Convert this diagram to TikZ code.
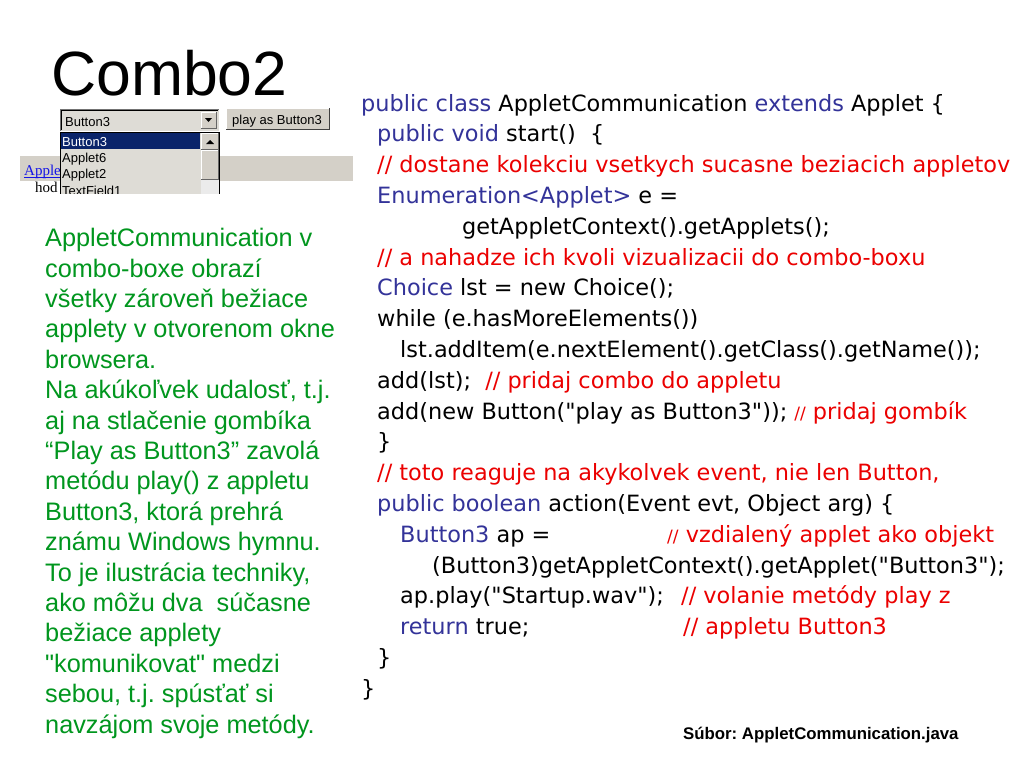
\documentclass[tikz,border=0pt]{standalone}
\usepackage{fontspec}
\setmainfont{Liberation Sans}
\newfontfamily\notefont{Liberation Sans}
\newfontfamily\codefont{DejaVu Sans}
\newfontfamily\webserif{Liberation Serif}
\definecolor{kwc}{RGB}{51,51,153}
\definecolor{cmc}{RGB}{235,0,0}
\definecolor{grc}{RGB}{0,150,30}
\definecolor{wingray}{RGB}{212,208,200}
\definecolor{listbg}{RGB}{222,220,214}
\definecolor{navyc}{RGB}{10,36,106}
\definecolor{linkc}{RGB}{20,20,230}
\newcommand\kwd[1]{\textcolor{kwc}{#1}}
\newcommand\cmt[1]{\textcolor{cmc}{#1}}
\newcommand\smsl{{\fontsize{17}{20}\selectfont//}}
\frenchspacing
\begin{document}
\begin{tikzpicture}[x=1pt,y=-1pt,
  code/.style={anchor=base west,inner sep=0pt,font=\codefont\fontsize{22.4}{26}\selectfont},
  note/.style={anchor=base west,inner sep=0pt,text=grc,font=\notefont\fontsize{25.3}{30}\selectfont},
  ui/.style={anchor=base west,inner sep=0pt,font=\fontsize{13}{15}\selectfont},
  title/.style={anchor=base west,inner sep=0pt,font=\fontsize{62.5}{70}\selectfont}]
\useasboundingbox[fill=white] (0,0) rectangle (1024,768);

% title
\node[title] (title) at (51,95) {Combo2};

% ---------- screenshot of the applet ----------
\begin{scope}
\clip (20,104) rectangle (354,193);
\fill[wingray] (20,156) rectangle (353,181);
\node[anchor=base west,inner sep=0pt,text=linkc,font=\webserif\fontsize{15}{17}\selectfont] (link) at (24,175) {Apple};
\draw[linkc] (24,177) -- (60,177);
\node[anchor=base west,inner sep=0pt,font=\webserif\fontsize{15}{17}\selectfont] (hod) at (35,192) {hod};
% combo box
\fill[listbg] (60,109) rectangle (219,131);
\draw[black!55] (60,131) -- (60,109) -- (219,109);
\draw[white] (60.5,131) -- (219,131) -- (219,109.5);
\draw[black] (61.5,130) -- (61.5,110.5) -- (218,110.5);
\node[ui] (csel) at (65,126) {Button3};
\fill[wingray] (201,112) rectangle (216,128);
\draw[black!60] (201,128) -- (216,128) -- (216,112);
\draw[white] (201,128) -- (201,112) -- (216,112);
\fill[black] (205,118) -- (212,118) -- (208.5,122) -- cycle;
% play button
\fill[wingray] (226,108) rectangle (330,130);
\draw[white] (226.5,130) -- (226.5,108.5) -- (330,108.5);
\draw[black!75] (226,129.5) -- (329.5,129.5) -- (329.5,108);
\node[ui] (playbtn) at (232,124) {play as Button3};
% dropdown list
\fill[listbg] (60,131.5) rectangle (220,200);
\draw[black] (60.5,200) -- (60.5,131.8) -- (219.5,131.8) -- (219.5,200);
\fill[navyc] (61,133) rectangle (200,149);
\node[ui,text=white] (i1) at (62,146) {Button3};
\node[ui] (i2) at (62,162.5) {Applet6};
\node[ui] (i3) at (62,178.5) {Applet2};
\node[ui] (i4) at (62,195) {TextField1};
% scrollbar
\fill[white!92!black] (201,150) rectangle (219,200);
\fill[wingray] (201,133) rectangle (219,150);
\draw[white] (201.5,150) -- (201.5,133.5) -- (219,133.5);
\draw[black!60] (201,149.5) -- (218.5,149.5) -- (218.5,133);
\fill[black] (206,144) -- (214,144) -- (210,140) -- cycle;
\fill[wingray] (201,150) rectangle (219,180);
\draw[white] (201.5,180) -- (201.5,150.5) -- (219,150.5);
\draw[black!60] (201,179.5) -- (218.5,179.5) -- (218.5,150);
\end{scope}

% ---------- green note ----------
\node[note] (n1)  at (45,246.7) {AppletCommunication v};
\node[note] (n2)  at (45,277.1) {combo-boxe obrazí};
\node[note] (n3)  at (45,307.5) {všetky zároveň bežiace};
\node[note] (n4)  at (45,337.9) {applety v otvorenom okne};
\node[note] (n5)  at (45,368.3) {browsera.};
\node[note] (n6)  at (45,398.7) {Na akúkoľvek udalosť, t.j.};
\node[note] (n7)  at (45,429.1) {aj na stlačenie gombíka};
\node[note] (n8)  at (45,459.5) {“Play as Button3” zavolá};
\node[note] (n9)  at (45,489.9) {metódu play() z appletu};
\node[note] (n10) at (45,520.3) {Button3, ktorá prehrá};
\node[note] (n11) at (45,550.7) {známu Windows hymnu.};
\node[note] (n12) at (45,581.1) {To je ilustrácia techniky,};
\node[note] (n13) at (45,611.5) {ako môžu dva\ \ súčasne};
\node[note] (n14) at (45,641.9) {bežiace applety};
\node[note] (n15) at (45,672.3) {"komunikovat" medzi};
\node[note] (n16) at (45,702.7) {sebou, t.j. spúsťať si};
\node[note] (n17) at (45,733.1) {navzájom svoje metódy.};

% ---------- code ----------
\node[code] (c1)  at (361,111)   {\kwd{public class} AppletCommunication \kwd{extends} Applet \{};
\node[code] (c2)  at (377,141.8) {\kwd{public void} start()\ \ \{};
\node[code] (c3)  at (377,172.6) {\cmt{// dostane kolekciu vsetkych sucasne beziacich appletov}};
\node[code] (c4)  at (377,203.4) {\kwd{Enumeration<Applet>} e =};
\node[code] (c5)  at (462,234.2) {getAppletContext().getApplets();};
\node[code] (c6)  at (377,265)   {\cmt{// a nahadze ich kvoli vizualizacii do combo-boxu}};
\node[code] (c7)  at (377,295.8) {\kwd{Choice} lst = new Choice();};
\node[code] (c8)  at (377,326.6) {while (e.hasMoreElements())};
\node[code] (c9)  at (400,357.4) {lst.addItem(e.nextElement().getClass().getName());};
\node[code] (c10) at (377,388.2) {add(lst);\ \ \cmt{// pridaj combo do appletu}};
\node[code] (c11) at (377,419)   {add(new Button("play as Button3")); \cmt{\smsl{} pridaj gombík}};
\node[code] (c12) at (377,449.8) {\}};
\node[code] (c13) at (377,480.6) {\cmt{// toto reaguje na akykolvek event, nie len Button,}};
\node[code] (c14) at (377,511.4) {\kwd{public boolean} action(Event evt, Object arg) \{};
\node[code] (c15) at (400,542.2) {\kwd{Button3} ap =};
\node[code] (c15c) at (667,542.2) {\cmt{\smsl{} vzdialený applet ako objekt}};
\node[code] (c16) at (432,573)   {(Button3)getAppletContext().getApplet("Button3");};
\node[code] (c17) at (400,603.8) {ap.play("Startup.wav");};
\node[code] (c17c) at (681,603.8) {\cmt{// volanie metódy play z}};
\node[code] (c18) at (400,634.6) {\kwd{return} true;};
\node[code] (c18c) at (683,634.6) {\cmt{// appletu Button3}};
\node[code] (c19) at (377,665.4) {\}};
\node[code] (c20) at (361,696.2) {\}};

% footer
\node[anchor=base west,inner sep=0pt,font=\bfseries\fontsize{16.8}{19}\selectfont] (file) at (683,739) {Súbor: AppletCommunication.java};
\end{tikzpicture}
\end{document}
